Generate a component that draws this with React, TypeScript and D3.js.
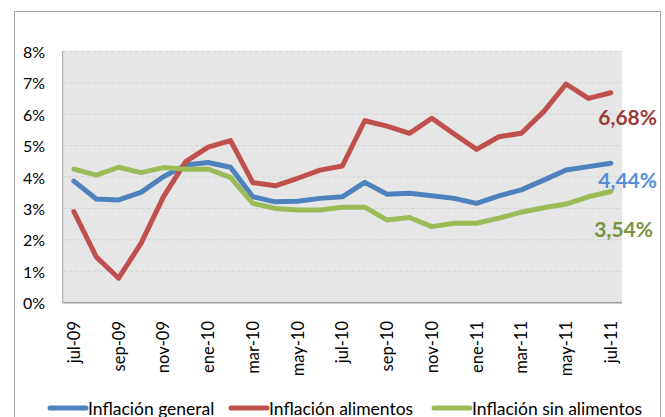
import React from "react";
import * as d3 from "d3";

const months = [
  "jul-09", "ago-09", "sep-09", "oct-09", "nov-09", "dic-09",
  "ene-10", "feb-10", "mar-10", "abr-10", "may-10", "jun-10",
  "jul-10", "ago-10", "sep-10", "oct-10", "nov-10", "dic-10",
  "ene-11", "feb-11", "mar-11", "abr-11", "may-11", "jun-11", "jul-11",
];
const general = [
  3.87, 3.3, 3.27, 3.51, 4.01, 4.38, 4.46, 4.31, 3.37, 3.21, 3.23, 3.32,
  3.37, 3.83, 3.45, 3.48, 3.4, 3.32, 3.16, 3.4, 3.59, 3.9, 4.22, 4.33, 4.44,
];
const alimentos = [
  2.9, 1.46, 0.78, 1.89, 3.37, 4.49, 4.95, 5.16, 3.82, 3.72, 3.96, 4.22,
  4.35, 5.79, 5.62, 5.39, 5.87, 5.37, 4.88, 5.28, 5.39, 6.08, 6.96, 6.5, 6.68,
];
const sinAlimentos = [
  4.25, 4.06, 4.31, 4.14, 4.3, 4.25, 4.25, 3.99, 3.16, 3.0, 2.95, 2.95,
  3.04, 3.04, 2.63, 2.71, 2.42, 2.53, 2.53, 2.69, 2.88, 3.02, 3.14, 3.37, 3.54,
];
const yTicks = [0, 1, 2, 3, 4, 5, 6, 7, 8];
const seriesNames = ["Inflación general", "Inflación alimentos", "Inflación sin alimentos"];
const endLabels = ["4,44%", "6,68%", "3,54%"];

const colors = ["#4F81BD", "#C0504D", "#9BBB59"];
const labelColors = ["#558ED5", "#9B3A37", "#77933C"];
const FONT = "Lato, 'Open Sans', sans-serif";

export default function App() {
  const left = 62.7, right = 622, top = 51.3, bottom = 302.7;
  const x = d3.scaleBand<string>().domain(months).range([left, right]);
  const y = d3.scaleLinear().domain([0, 8]).range([bottom, top]);
  const cx = (m: string) => (x(m) as number) + x.bandwidth() / 2;
  const line = d3
    .line<number>()
    .x((_, i) => cx(months[i]))
    .y((d) => y(d));
  const series = [general, alimentos, sinAlimentos];
  const labelOffsets = [179, 116, 228];
  const labelX = [657, 657, 653];
  const legendLines = [50, 231, 434];

  return (
    <svg
      width={665}
      height={417}
      style={{ position: "absolute", left: 0, top: 0, background: "#fff" }}
      fontFamily={FONT}
    >
      <rect x={14.5} y={11.5} width={646} height={420} fill="#fff" stroke="#A6A6A6" />
      <rect x={left} y={top} width={right - left} height={bottom - top} fill="#E6E6E6" />
      {yTicks.slice(1).map((t) => (
        <line
          key={t}
          x1={left}
          x2={right}
          y1={y(t)}
          y2={y(t)}
          stroke="#D2D2D2"
          strokeDasharray="4,2"
        />
      ))}
      <line x1={left} x2={left} y1={top} y2={bottom} stroke="#A0A0A0" />
      <line x1={left} x2={right} y1={bottom} y2={bottom} stroke="#A0A0A0" strokeWidth={1.5} />
      {yTicks.map((t) => (
        <text
          key={t}
          x={45}
          y={y(t)}
          textAnchor="end"
          dominantBaseline="central"
          fontSize={16}
          fill="#000"
        >
          {t}%
        </text>
      ))}
      {months.map((m, i) =>
        i % 2 === 0 ? (
          <text
            key={m}
            transform={`translate(${cx(m)},321) rotate(-90)`}
            textAnchor="end"
            dominantBaseline="central"
            fontSize={16.5}
            fill="#000"
          >
            {m}
          </text>
        ) : null
      )}
      {series.map((s, i) => (
        <path
          key={i}
          d={line(s) || ""}
          fill="none"
          stroke={colors[i]}
          strokeWidth={5}
          strokeLinejoin="round"
          strokeLinecap="round"
        />
      ))}
      {endLabels.map((l, i) => (
        <text
          key={l}
          x={labelX[i]}
          y={labelOffsets[i]}
          textAnchor="end"
          dominantBaseline="central"
          fontSize={21}
          fontWeight="bold"
          fill={labelColors[i]}
        >
          {l}
        </text>
      ))}
      {seriesNames.map((n, i) => (
        <g key={n}>
          <line
            x1={legendLines[i]}
            x2={legendLines[i] + 36}
            y1={408}
            y2={408}
            stroke={colors[i]}
            strokeWidth={5}
            strokeLinecap="round"
          />
          <text x={legendLines[i] + 38} y={414.5} fontSize={17.5} fill="#000">
            {n}
          </text>
        </g>
      ))}
    </svg>
  );
}
